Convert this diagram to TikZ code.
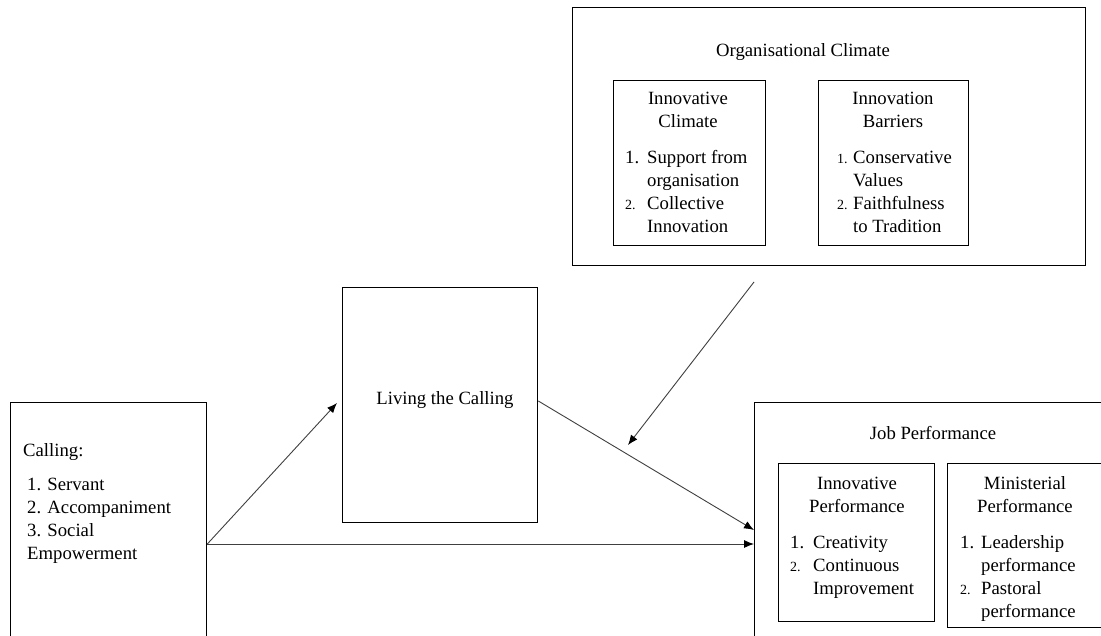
\documentclass[tikz,border=0pt]{standalone}
\usepackage{fontspec}
\setmainfont{Liberation Serif}
\usetikzlibrary{arrows.meta}
\newcommand{\mainsz}{\fontsize{18.7}{23}\selectfont}
\newcommand{\numsm}[1]{{\fontsize{14}{23}\selectfont #1}}
\tikzset{
  box/.style={draw=black, line width=1.3pt, inner sep=0pt, anchor=north west},
  txt/.style={inner sep=0pt, font=\mainsz},
  arr/.style={draw=black!75, line width=0.9pt, -{Latex[length=10pt,width=8pt,color=black]}},
}
\begin{document}
\begin{tikzpicture}[x=1pt,y=-1pt]
\clip (0,0) rectangle (1101,635);
\fill[white] (0,0) rectangle (1101,635);

% boxes
\node[box, minimum width=196pt, minimum height=280pt] (calling) at (10,402) {};
\node[box, minimum width=195pt, minimum height=235pt] (living) at (342,287) {};
\node[box, minimum width=513pt, minimum height=258pt] (org) at (572,7) {};
\node[box, minimum width=152pt, minimum height=165pt] (iclim) at (613,80) {};
\node[box, minimum width=150pt, minimum height=165pt] (ibar) at (818,80) {};
\node[box, minimum width=380pt, minimum height=280pt] (job) at (754,402) {};
\node[box, minimum width=156pt, minimum height=158pt] (iperf) at (778,463) {};
\node[box, minimum width=180pt, minimum height=164pt] (mperf) at (947,463) {};

% texts
\node[txt, anchor=base west] (tcall) at (23,456) {Calling:};
\node[txt, anchor=base west] (tcalllist) at (27,490) {%
  \begin{tabular}[t]{@{}l@{}}1. Servant\\2. Accompaniment\\3. Social\\Empowerment\end{tabular}};
\node[txt, anchor=base] (tliv) at (445,404) {Living the Calling};

\node[txt, anchor=base] (torg) at (803,56) {Organisational Climate};
\node[txt, anchor=base] (ticl) at (688,104) {%
  \begin{tabular}[t]{@{}c@{}}Innovative\\Climate\end{tabular}};
\node[txt, anchor=base west] (ticllist) at (625,163) {%
  \begin{tabular}[t]{@{}p{22pt}@{}l@{}}1. & Support from\\ & organisation\\ \numsm{2.} & Collective\\ & Innovation\end{tabular}};
\node[txt, anchor=base] (tibar) at (893,104) {%
  \begin{tabular}[t]{@{}c@{}}Innovation\\Barriers\end{tabular}};
\node[txt, anchor=base west] (tibarlist) at (837,163) {%
  \begin{tabular}[t]{@{}p{16pt}@{}l@{}}\numsm{1.} & Conservative\\ & Values\\ \numsm{2.} & Faithfulness\\ & to Tradition\end{tabular}};

\node[txt, anchor=base] (tjob) at (933,439) {Job Performance};
\node[txt, anchor=base] (tiperf) at (857,489) {%
  \begin{tabular}[t]{@{}c@{}}Innovative\\Performance\end{tabular}};
\node[txt, anchor=base west] (tiperflist) at (790,548) {%
  \begin{tabular}[t]{@{}p{23pt}@{}l@{}}1. & Creativity\\ \numsm{2.} & Continuous\\ & Improvement\end{tabular}};
\node[txt, anchor=base] (tmperf) at (1025,489) {%
  \begin{tabular}[t]{@{}c@{}}Ministerial\\Performance\end{tabular}};
\node[txt, anchor=base west] (tmperflist) at (960,548) {%
  \begin{tabular}[t]{@{}p{21pt}@{}l@{}}1. & Leadership\\ & performance\\ \numsm{2.} & Pastoral\\ & performance\end{tabular}};

% connector points
\coordinate (cout) at (calling.north east |- 0,544);
\coordinate (livin) at (337,403);
\coordinate (livout) at (living.north east |- 0,401);
\coordinate (jobin1) at (job.north west |- 0,530);
\coordinate (jobin2) at (job.north west |- 0,544);
\coordinate (orgstart) at (754,282);
\coordinate (orgtip) at (628,445);

\draw[arr] (cout) -- (livin);
\draw[arr] (cout) -- (jobin2);
\draw[arr] (livout) -- (jobin1);
\draw[arr] (orgstart) -- (orgtip);
\end{tikzpicture}
\end{document}
